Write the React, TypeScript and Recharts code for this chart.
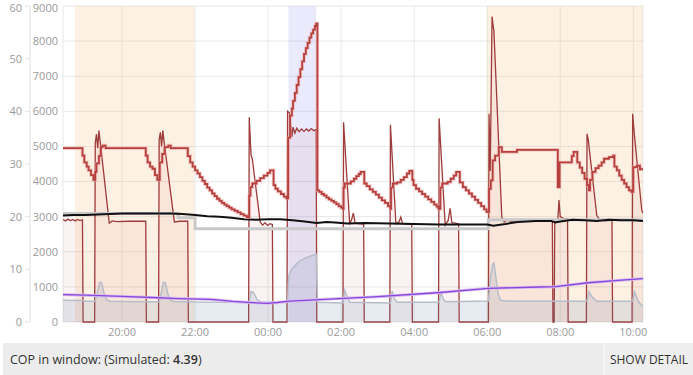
import React from 'react';
import { ComposedChart, Area, Line, XAxis, YAxis, CartesianGrid, ReferenceArea } from 'recharts';

type Pt = [number, number];

// time axis: minutes after 18:00
const timeTicks = [120, 240, 360, 480, 600, 720, 840, 960];
const powerTicks = [0, 1000, 2000, 3000, 4000, 5000, 6000, 7000, 8000, 9000];
const tempTicks = [0, 10, 20, 30, 40, 50, 60];

const heatingBands: Pt[] = [[42.7, 238.9], [720, 976]];
const dhwBands: Pt[] = [[393.4, 438.9]];

// heat output (W)
const heatOutput: Pt[] = [
  [23, 2920], [27, 2880], [31, 2930], [35, 2890], [39, 2920], [43, 2880], [47, 2920], [51, 2890], [55, 2910], [56, 0],
  [75, 0], [76, 5100], [78, 5350], [80, 4950], [82, 5450], [84, 5150], [99, 2820], [104, 2880], [112, 2860], [130, 2870], [159, 2870], [160, 0],
  [180, 0], [181, 5200], [183, 5400], [185, 5000], [187, 5450], [189, 5150], [206, 2850], [215, 2870], [228, 2870], [229, 0],
  [328, 0], [329, 5830], [332, 4750], [334, 4650], [347, 2850], [351, 2760], [355, 2830], [359, 2750], [363, 2800], [367, 2780], [368, 0],
  [391, 0], [392, 6000], [395, 5950], [399, 5270], [401, 5550], [404, 5380], [407, 5520], [411, 5420], [415, 5500], [419, 5430], [423, 5500], [427, 5440], [431, 5510], [435, 5450], [439, 5480], [440, 0],
  [483, 0], [484, 5690], [494, 2810], [497, 2900], [500, 3100], [503, 2820], [508, 2800], [517, 2790], [518, 0],
  [560, 0], [561, 5620], [570, 2800], [575, 2850], [578, 2990], [581, 2800], [596, 2790], [597, 0],
  [640, 0], [641, 5800], [651, 2760], [656, 2900], [659, 3240], [662, 2830], [673, 2800], [674, 0],
  [722, 0], [723, 5930], [725, 4300], [728, 8700], [730, 8400], [731, 8300], [744, 2990], [748, 2850], [752, 2900], [760, 2870], [780, 2900], [800, 2880], [827, 2900], [828, 0], [830, 0], [831, 2850], [836, 2900], [838, 3470], [840, 3000], [845, 2950], [852, 2940], [853, 0],
  [883, 0], [884, 5360], [886, 5200], [900, 3040], [905, 2900], [915, 2880], [925, 2900], [926, 0],
  [958, 0], [959, 5930], [962, 5300], [974, 3180], [976, 3100],
];

// electric input (W)
const elecInput: Pt[] = [
  [23, 620], [56, 610], [60, 590], [76, 590], [79, 800], [83, 1120], [86, 1130], [90, 850], [94, 640], [100, 590], [159, 580], [165, 575],
  [181, 575], [184, 800], [188, 1130], [191, 1120], [195, 820], [199, 630], [205, 585], [229, 580], [240, 570], [300, 560], [329, 555],
  [332, 870], [336, 840], [342, 640], [350, 560], [392, 560], [394, 1300], [397, 1460], [402, 1570], [410, 1710], [420, 1810], [430, 1880], [439, 1930], [441, 560],
  [483, 540], [486, 900], [490, 720], [494, 560], [561, 540], [564, 880], [568, 650], [572, 560], [641, 560], [644, 870], [648, 650], [652, 580],
  [722, 600], [725, 1200], [729, 1650], [731, 1680], [734, 1300], [738, 800], [742, 620], [750, 600], [884, 590], [887, 860], [893, 700], [900, 590],
  [959, 590], [962, 860], [968, 600], [974, 470], [976, 450],
];

// flow temperature (°C)
const flowTemp: Pt[] = [
  [23, 33.0], [55, 31.6], [58, 30.3], [62, 29.5], [65, 28.8], [69, 27.9], [73, 27.0], [76, 28.5], [78, 30.1], [82, 31.5], [85, 33.2], [88, 33.5], [93, 33.0],
  [159, 31.6], [162, 30.3], [166, 29.5], [170, 29.1], [174, 27.9], [178, 27.0], [182, 30.3], [186, 31.9], [190, 33.2], [196, 33.5], [200, 33.0],
  [228, 31.5], [232, 30.3], [236, 29.5], [240, 28.8], [244, 28.2], [248, 27.5], [252, 26.8], [256, 26.2], [260, 25.5], [264, 25.0], [268, 24.4], [272, 23.9], [276, 23.4], [280, 23.0], [284, 22.6], [288, 22.3], [292, 22.0], [296, 21.7], [300, 21.4], [305, 21.1], [310, 20.8], [315, 20.5], [320, 20.2], [325, 19.9],
  [329, 24.0], [331, 25.6], [334, 26.3], [341, 26.8], [347, 27.3], [353, 27.8], [359, 28.3], [363, 28.8], [369, 26.0], [372, 25.3], [376, 24.8], [381, 24.3], [386, 23.8], [390, 23.5],
  [393, 35.0], [396, 39.2], [399, 40.5], [401, 42.0], [404, 43.5], [407, 45.0], [410, 46.5], [413, 48.0], [416, 49.5], [419, 50.9], [422, 52.0], [425, 53.0], [428, 54.0], [431, 54.8], [434, 55.5], [437, 56.2], [439, 56.7],
  [441, 25.0], [444, 24.7], [448, 24.3], [452, 24.0], [456, 23.6], [460, 23.3], [464, 23.0], [468, 22.7], [472, 22.4], [476, 22.0], [480, 21.7], [483, 21.5],
  [484, 25.5], [486, 26.3], [496, 26.7], [501, 27.2], [505, 27.7], [509, 28.1], [512, 28.5], [518, 26.3], [522, 25.8], [527, 25.2], [532, 24.7], [537, 24.2], [542, 23.6], [547, 23.1], [552, 22.6], [557, 22.0], [561, 21.5],
  [562, 25.5], [565, 26.3], [572, 26.5], [578, 27.0], [583, 27.5], [588, 28.2], [592, 28.7], [597, 27.0], [599, 26.0], [603, 25.3], [608, 24.8], [613, 24.3], [618, 23.8], [623, 23.3], [628, 22.8], [633, 22.3], [637, 21.9], [640, 21.5],
  [643, 25.5], [646, 26.3], [655, 26.6], [660, 27.2], [665, 27.8], [669, 28.5], [675, 26.5], [680, 25.6], [685, 25.0], [690, 24.4], [695, 23.8], [700, 23.2], [705, 22.6], [710, 22.0], [715, 21.4], [719, 20.9],
  [723, 25.3], [726, 26.9], [729, 30.7], [733, 31.6], [739, 33.2], [744, 32.3], [769, 32.7], [836, 25.6], [839, 30.3], [859, 31.5], [862, 32.3], [868, 30.3], [872, 29.3], [876, 28.3], [880, 27.2], [884, 26.0], [887, 25.0],
  [889, 27.0], [893, 28.5], [898, 29.2], [903, 29.7], [908, 30.3], [912, 31.0], [920, 31.3], [927, 31.6], [929, 29.5], [933, 28.8], [937, 27.8], [941, 27.0], [945, 26.3], [949, 25.6], [953, 25.0], [957, 24.7], [960, 29.4], [966, 29.7], [971, 29.0], [976, 29.2],
];

// room temperature (°C)
const roomTemp: Pt[] = [
  [23, 20.2], [40, 20.3], [60, 20.3], [80, 20.4], [100, 20.5], [120, 20.6], [150, 20.6], [180, 20.6], [200, 20.6], [220, 20.5], [240, 20.3], [260, 20.1], [280, 20.0], [300, 19.8], [320, 19.5], [340, 19.4], [360, 19.5], [380, 19.5], [400, 19.3], [420, 19.1], [440, 18.8], [456, 19.0], [470, 18.9], [490, 18.7], [520, 18.8], [560, 18.7], [600, 18.6], [640, 18.5], [680, 18.5], [720, 18.5], [730, 18.3], [750, 18.6], [770, 19.0], [800, 19.2], [825, 19.2], [832, 18.9], [840, 19.1], [860, 19.4], [880, 19.3], [900, 19.2], [920, 19.4], [940, 19.3], [960, 19.3], [976, 19.2],
];

// room setpoint (°C)
const setpointTemp: Pt[] = [[23, 20.6], [212, 19.8], [240, 17.7], [722, 19.4], [976, 19.4]];

// outside temperature (°C)
const outsideTemp: Pt[] = [
  [23, 5.2], [60, 5.1], [120, 4.85], [180, 4.6], [212, 4.45], [265, 4.3], [286, 4.1], [302, 3.9], [340, 3.65], [358, 3.55], [375, 3.7], [396, 3.95], [445, 4.25], [540, 4.8], [643, 5.6], [722, 6.4], [807, 6.65], [832, 6.7], [886, 7.45], [935, 7.9], [976, 8.25],
];

const rows = (pts: Pt[]) => pts.map(([m, v]) => ({ m, v }));
const fmtTime = (m: number) => {
  const h = Math.round(18 + m / 60) % 24;
  return (h < 10 ? '0' : '') + h + ':00';
};

const YTick = (props: any) => {
  const { x, y, payload, textAnchor } = props;
  const yy = Math.max(y, 8);
  return (
    <text x={x} y={yy} dy="0.355em" textAnchor={textAnchor} fontSize={11} fill="#9a9a9a">
      {payload.value}
    </text>
  );
};
const tickStyle = { fontSize: 11, fill: '#9a9a9a' };

export default function App() {
  return (
    <div style={{ position: 'absolute', left: 0, top: 0, width: 693, height: 375, background: '#fff', fontFamily: "'Open Sans', sans-serif" }}>
      <ComposedChart width={693} height={343} margin={{ top: 6, right: 50, bottom: 0, left: 0 }}>
        {heatingBands.map(([a, b]) => (
          <ReferenceArea key={'h' + a} x1={a} x2={b} yAxisId="p" y1={0} y2={9000} fill="#f5b77a" fillOpacity={0.2} stroke="none" ifOverflow="hidden" />
        ))}
        {dhwBands.map(([a, b]) => (
          <ReferenceArea key={'d' + a} x1={a} x2={b} yAxisId="p" y1={0} y2={9000} fill="#8080f0" fillOpacity={0.17} stroke="none" ifOverflow="hidden" />
        ))}
        <CartesianGrid yAxisId="p" stroke="#e8e8e8" />
        <XAxis dataKey="m" type="number" domain={[23, 976]} ticks={timeTicks} tickFormatter={fmtTime} axisLine={false} tickLine={false} tickSize={3} tickMargin={3} height={21} tick={tickStyle} allowDataOverflow interval={0} />
        <YAxis yAxisId="p" type="number" domain={[0, 9000]} ticks={powerTicks} width={33} axisLine={false} tickLine={false} tickSize={3} tickMargin={2} tick={<YTick />} interval={0} />
        <YAxis yAxisId="t" type="number" domain={[0, 60]} ticks={tempTicks} width={30} axisLine={{ stroke: '#e2e2e2' }} tickLine={{ stroke: '#e2e2e2' }} tickSize={5} tickMargin={3} tick={<YTick />} interval={0} />
        <Area yAxisId="p" data={rows(heatOutput)} dataKey="v" type="linear" stroke="#9e3b3b" strokeWidth={1.3} fill="#c0392b" fillOpacity={0.06} isAnimationActive={false} dot={false} activeDot={false} />
        <Area yAxisId="p" data={rows(elecInput)} dataKey="v" type="linear" stroke="#b6bdc8" strokeWidth={1.5} fill="#6f86b0" fillOpacity={0.17} isAnimationActive={false} dot={false} activeDot={false} />
        <Line yAxisId="t" data={rows(setpointTemp)} dataKey="v" type="stepAfter" stroke="#c9c9c9" strokeWidth={3} dot={false} activeDot={false} isAnimationActive={false} />
        <Line yAxisId="t" data={rows(roomTemp)} dataKey="v" type="linear" stroke="#111" strokeWidth={2} dot={false} activeDot={false} isAnimationActive={false} />
        <Line yAxisId="t" data={rows(outsideTemp)} dataKey="v" type="linear" stroke="#d6bdf2" strokeWidth={3} dot={false} activeDot={false} isAnimationActive={false} />
        <Line yAxisId="t" data={rows(outsideTemp)} dataKey="v" type="linear" stroke="#8a46d8" strokeWidth={1.3} dot={false} activeDot={false} isAnimationActive={false} />
        <Line yAxisId="t" data={rows(flowTemp)} dataKey="v" type="stepAfter" stroke="#eba9a6" strokeWidth={3.5} strokeOpacity={0.6} dot={false} activeDot={false} isAnimationActive={false} />
        <Line yAxisId="t" data={rows(flowTemp)} dataKey="v" type="stepAfter" stroke="#b5403e" strokeWidth={1.8} dot={false} activeDot={false} isAnimationActive={false} />
      </ComposedChart>
      <div style={{ position: 'absolute', left: 3, top: 343, width: 690, height: 32, background: '#ececec', display: 'flex', alignItems: 'center' }}>
        <div style={{ flex: 1, paddingLeft: 7, fontSize: 12.5, color: '#333' }}>
          COP in window: (Simulated: <b style={{ fontWeight: 600 }}>4.39</b>)
        </div>
        <div style={{ width: 90, height: 32, borderLeft: '2px solid #f6f6f6', background: '#eeeeee', display: 'flex', alignItems: 'center', justifyContent: 'center', fontSize: 12, color: '#333', boxSizing: 'border-box' }}>
          SHOW DETAIL
        </div>
      </div>
    </div>
  );
}
